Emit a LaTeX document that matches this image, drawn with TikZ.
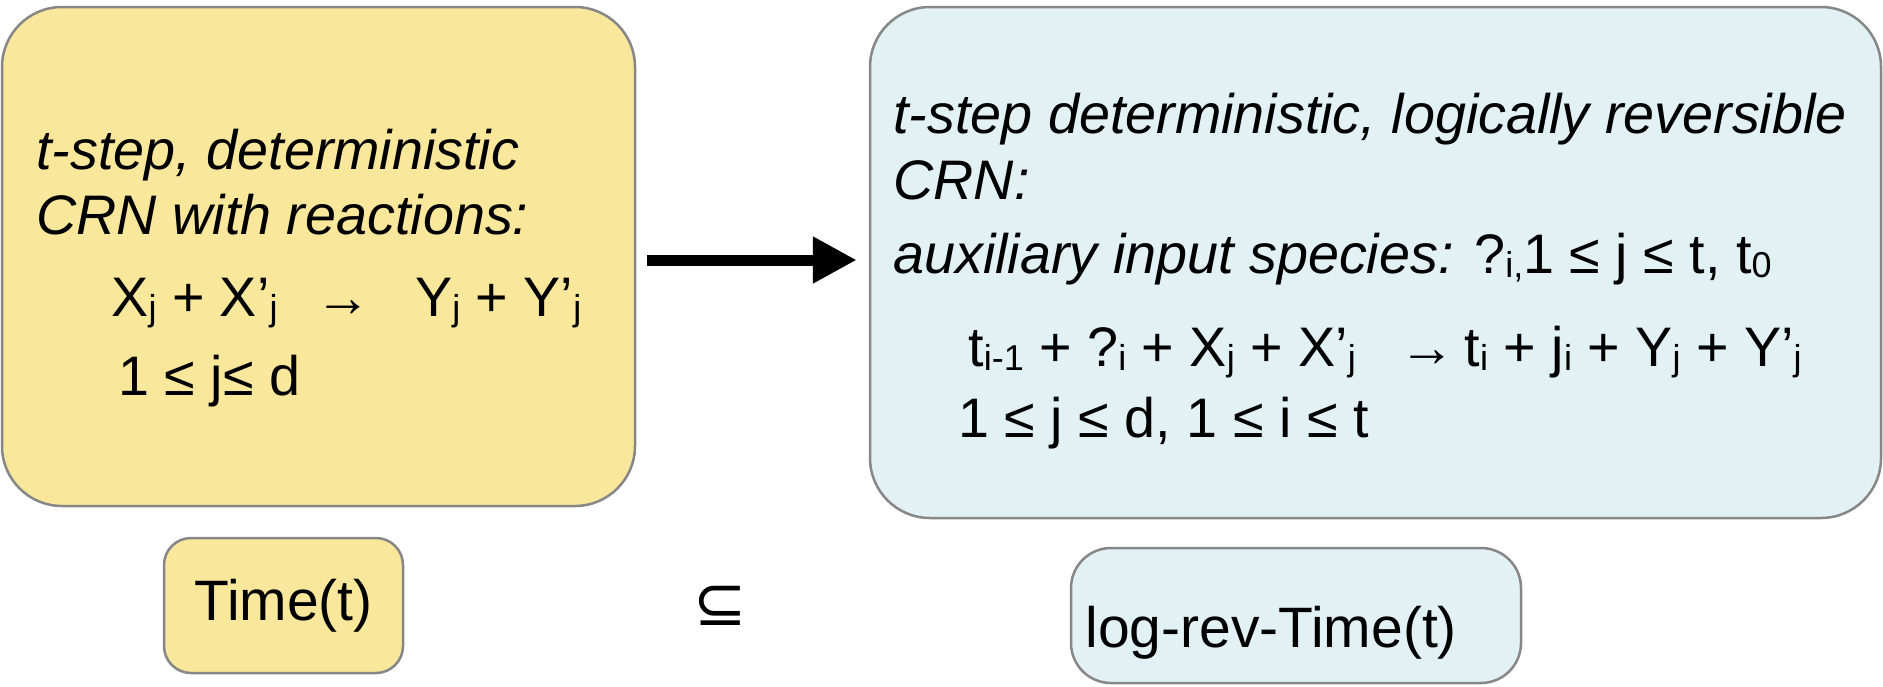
\documentclass[tikz,border=0pt]{standalone}
\usepackage{fontspec}
\setmainfont{Liberation Sans}
\newfontfamily\symfont{DejaVu Sans}
\usetikzlibrary{arrows.meta}

\definecolor{crnyellow}{HTML}{F9E79B}
\definecolor{revblue}{HTML}{E2F1F3}
\definecolor{boxgray}{HTML}{878787}

\newcommand{\sbs}[1]{\raisebox{-2pt}{\fontsize{18}{18}\selectfont #1}}

\begin{document}
\begin{tikzpicture}[
        x=0.5pt, y=-0.5pt,
        box/.style={draw=boxgray, line width=1.25pt, inner sep=0pt},
        txt/.style={anchor=base west, inner sep=0pt, font=\fontsize{27.85}{33}\selectfont},
        tag/.style={inner sep=0pt, font=\fontsize{28.5}{33}\selectfont}
    ]
        \useasboundingbox (0,0) rectangle (1883,686);

        % the two CRN boxes
        \node[box, fill=crnyellow, rounded corners=30pt, minimum width=316.5pt, minimum height=249.5pt] (crn) at (318.5,256.5) {};
        \node[box, fill=revblue, rounded corners=30pt, minimum width=505.5pt, minimum height=255.5pt] (revcrn) at (1375.5,262.5) {};

        \node[txt] (crn1) at (36,169) {\itshape t-step, deterministic};
        \node[txt] (crn2) at (36,234) {\itshape CRN with reactions:};
        \node[txt] (crn3) at (111,316) {X\sbs{j} + X’\sbs{j}\hspace{19pt}→\hspace{22pt}Y\sbs{j} + Y’\sbs{j}};
        \node[txt] (crn4) at (118,395) {1 ≤ j≤ d};

        \node[txt] (rev1) at (893,133) {\itshape t-step deterministic, logically reversible};
        \node[txt] (rev2) at (893,199) {\itshape CRN:};
        \node[txt] (rev3) at (893,273) {\textit{auxiliary input species:} ?\sbs{i,}1 ≤ j ≤ t, t\sbs{0}};
        \node[txt] (rev4) at (968,366) {t\sbs{i-1} + ?\sbs{i} + X\sbs{j} + X’\sbs{j}\hspace{22pt}→\hspace{4.5pt}t\sbs{i} + j\sbs{i} + Y\sbs{j} + Y’\sbs{j}};
        \node[txt] (rev5) at (958,437) {1 ≤ j ≤ d, 1 ≤ i ≤ t};

        \draw[-{Triangle[length=22pt, width=22pt]}, line width=5.5pt, shorten <=5.5pt, shorten >=6pt]
            ([yshift=-1.75pt]crn.east) -- ([yshift=-1.75pt]crn.east -| revcrn.west);

        % the two classes
        \node[box, tag, fill=crnyellow, rounded corners=13.5pt, minimum width=119.5pt, minimum height=67.5pt] (timebox) at (283.5,605.5) {Time(t)};
        \node[box, fill=revblue, rounded corners=20pt, minimum width=225pt, minimum height=67.5pt] (revtimebox) at (1296,615.5) {};
        \node[tag, anchor=base west] (revtimetext) at (1085,647) {log-rev-Time(t)};

        \node[inner sep=0pt, font=\symfont\fontsize{32}{32}\selectfont] (subset) at (720,606) {⊆};
    \end{tikzpicture}
\end{document}
